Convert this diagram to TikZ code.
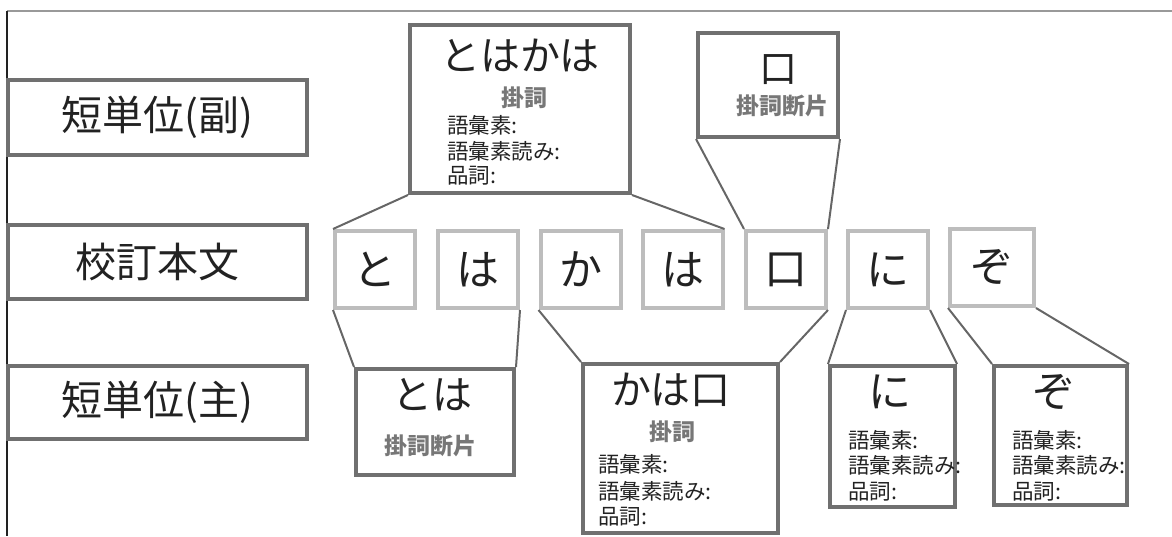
\documentclass[tikz,border=0pt]{standalone}
\usepackage{fontspec}
\setmainfont{Noto Sans CJK JP}
\definecolor{boxgray}{HTML}{707070}
\definecolor{lightbox}{HTML}{BDBDBD}
\definecolor{linegray}{HTML}{666666}
\definecolor{txt}{HTML}{222222}
\definecolor{subtxt}{HTML}{777777}
\tikzset{
  labbox/.style={draw=boxgray, line width=4pt, minimum width=299pt, inner sep=0pt, text=txt,
    font=\fontsize{41}{46}\selectfont},
  bigbox/.style={draw=boxgray, line width=4pt, inner sep=0pt},
  charbox/.style={draw=lightbox, line width=4pt, minimum width=80pt, minimum height=77pt, inner sep=0pt,
    text=txt, font=\fontsize{43}{48}\selectfont},
  conn/.style={draw=linegray, line width=2pt},
  bigtxt/.style={inner sep=0pt, text=txt, font=\fontsize{40}{44}\selectfont},
  midtxt/.style={inner sep=0pt, text=txt, font=\fontsize{38}{42}\selectfont},
  kaketxt/.style={inner sep=0pt, text=subtxt, font=\fontsize{23}{26}\selectfont\bfseries},
  infotxt/.style={inner sep=0pt, anchor=west, text=txt, font=\fontsize{21.5}{24}\selectfont},
}
\begin{document}
\begin{tikzpicture}[x=1pt,y=-1pt]
\useasboundingbox (0,0) rectangle (1172,536);
% frame
\coordinate (f0) at (7,11);
\coordinate (f1) at (1172,11);
\coordinate (f2) at (7,536);
\draw[draw=gray!80, line width=1.5pt] (f0) -- (f1);
\draw[draw=txt, line width=1.5pt] (f0) -- (f2);

% left labels
\node[labbox, minimum height=75pt] (L1) at (157.5,117.5) {短単位(副)};
\node[labbox, minimum height=74pt] (L2) at (157.5,262) {校訂本文};
\node[labbox, minimum height=73pt] (L3) at (157.5,402.5) {短単位(主)};

% top boxes
\node[bigbox, minimum width=220pt, minimum height=168pt] (T1) at (520,109) {};
\node[bigbox, minimum width=140pt, minimum height=104pt] (T2) at (768,85) {};

% middle row
\node[charbox] (m1) at (375,269.5) {と};
\node[charbox] (m2) at (478,269.5) {は};
\node[charbox] (m3) at (580.5,269.5) {か};
\node[charbox] (m4) at (682.5,269.5) {は};
\node[charbox] (m5) at (786,269.5) {口};
\node[charbox] (m6) at (888,269.5) {に};
\node[charbox, minimum width=84pt] (m7) at (992,267.5) {ぞ};

% bottom boxes
\node[bigbox, minimum width=158pt, minimum height=106pt] (B1) at (435,422) {};
\node[bigbox, minimum width=195pt, minimum height=169pt] (B2) at (680.5,448.5) {};
\node[bigbox, minimum width=125pt, minimum height=141pt] (B3) at (892.5,436.5) {};
\node[bigbox, minimum width=133pt, minimum height=139pt] (B4) at (1060.5,435.5) {};

% connectors
\draw[conn] (T1.south west) -- (m1.north west);
\draw[conn] (T1.south east) -- (m4.north east);
\draw[conn] (T2.south west) -- (m5.north west);
\draw[conn] (T2.south east) -- (m5.north east);
\draw[conn] (m1.south west) -- (B1.north west);
\draw[conn] (m2.south east) -- (B1.north east);
\draw[conn] (m3.south west) -- (B2.north west);
\draw[conn] (m5.south east) -- (B2.north east);
\draw[conn] (m6.south west) -- (B3.north west);
\draw[conn] (m6.south east) -- (B3.north east);
\draw[conn] (m7.south west) -- (B4.north west);
\draw[conn] (m7.south east) -- (B4.north east);

% texts in T1
\node[bigtxt] (t1a) at (520,55) {とはかは};
\node[kaketxt] (t1b) at (524,98) {掛詞};
\node[infotxt] (t1c) at (447,125) {語彙素:};
\node[infotxt] (t1d) at (447,151) {語彙素読み:};
\node[infotxt] (t1e) at (447,176) {品詞:};

% texts in T2
\node[midtxt] (t2a) at (778,70) {口};
\node[kaketxt] (t2b) at (782,106) {掛詞断片};

% texts in B1
\node[bigtxt] (b1a) at (432,395) {とは};
\node[kaketxt] (b1b) at (430,446) {掛詞断片};

% texts in B2
\node[bigtxt] (b2a) at (671,390) {かは口};
\node[kaketxt] (b2b) at (672,432) {掛詞};
\node[infotxt] (b2c) at (598,464) {語彙素:};
\node[infotxt] (b2d) at (598,491) {語彙素読み:};
\node[infotxt] (b2e) at (598,517) {品詞:};

% texts in B3
\node[bigtxt, font=\fontsize{43}{48}\selectfont] (b3a) at (890,392) {に};
\node[infotxt] (b3c) at (848,440) {語彙素:};
\node[infotxt] (b3d) at (848,465) {語彙素読み:};
\node[infotxt] (b3e) at (848,492) {品詞:};

% texts in B4
\node[bigtxt, font=\fontsize{43}{48}\selectfont] (b4a) at (1054,392) {ぞ};
\node[infotxt] (b4c) at (1012,440) {語彙素:};
\node[infotxt] (b4d) at (1012,465) {語彙素読み:};
\node[infotxt] (b4e) at (1012,492) {品詞:};
\end{tikzpicture}
\end{document}
